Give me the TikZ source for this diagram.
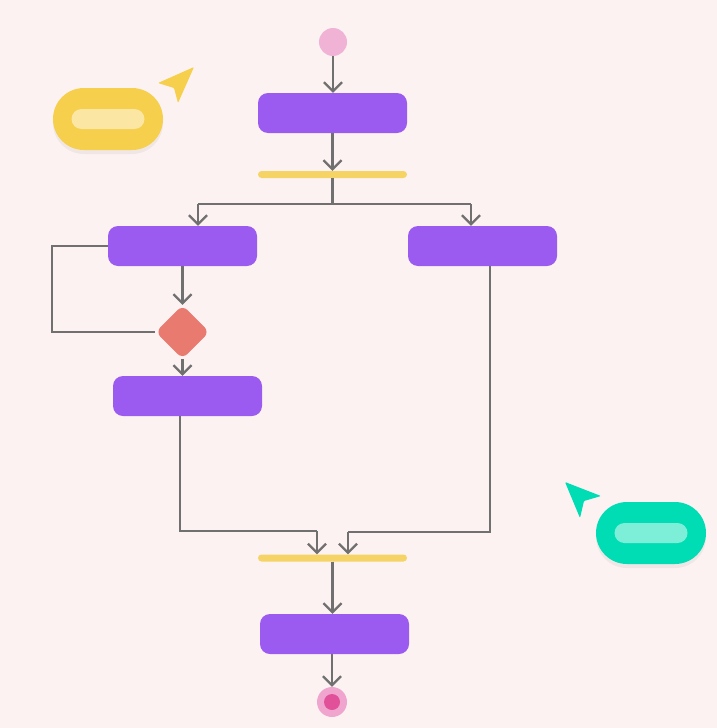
\documentclass[tikz,border=0pt]{standalone}
\usepackage{xcolor}
\usepackage{tikz}
\usetikzlibrary{shapes.geometric, shapes.misc, arrows.meta, positioning, calc, shadows}

\definecolor{bgpink}{HTML}{FDF2F2}
\definecolor{actpurple}{HTML}{9B5AF0}
\definecolor{baryellow}{HTML}{F5D465}
\definecolor{linegray}{HTML}{707070}
\definecolor{decred}{HTML}{E87A70}
\definecolor{startpink}{HTML}{F0B3D6}
\definecolor{stoppink}{HTML}{F0A5CF}
\definecolor{stopdot}{HTML}{E0519A}
\definecolor{bubyellow}{HTML}{F6CF4C}
\definecolor{bubyellowin}{HTML}{FBE6A4}
\definecolor{bubteal}{HTML}{00DDB4}
\definecolor{bubtealin}{HTML}{7DEFD9}

\begin{document}
\begin{tikzpicture}[
    x=1pt, y=-1pt,
    box/.style={rounded corners=10pt, minimum width=149pt, minimum height=40pt, inner sep=0pt, fill=actpurple},
    bar/.style={rounded corners=3.5pt, minimum width=149pt, minimum height=7pt, inner sep=0pt, fill=baryellow},
    decision/.style={diamond, rounded corners=7pt, minimum size=54pt, inner sep=0pt, fill=decred},
    bubble/.style={rounded corners=31pt, minimum width=110pt, minimum height=62pt, inner sep=0pt,
        drop shadow={opacity=0.10, shadow xshift=0pt, shadow yshift=-4pt}},
    bubbleline/.style={rounded corners=10pt, minimum width=73pt, minimum height=20pt, inner sep=0pt},
    flow/.style={draw=linegray, line width=2.3pt, -{Straight Barb[length=9pt, width=18pt]}},
    link/.style={draw=linegray, line width=2.3pt}
]
    \fill[bgpink] (0,0) rectangle (717,728);
    \useasboundingbox (0,0) rectangle (717,728);

    \node[circle, minimum size=28pt, inner sep=0pt, fill=startpink] (start) at (333,42) {};
    \node[box] (act1) at (332.5,113) {};
    \node[bar] (fork) at (332.5,174.5) {};
    \node[box] (actL) at (182.5,246) {};
    \node[box] (actR) at (482.5,246) {};
    \node[decision] (dec) at (182.5,332) {};
    \node[box] (actL2) at (187.5,396) {};
    \node[bar] (join) at (332.5,558) {};
    \node[box] (act3) at (334.5,634) {};
    \node[circle, minimum size=30pt, inner sep=0pt, fill=stoppink] (stop) at (332,702) {};
    \node[circle, minimum size=16pt, inner sep=0pt, fill=stopdot] (stopin) at (stop) {};

    \coordinate (splitL) at (198,204);
    \coordinate (splitR) at (471,204);
    \coordinate (loopC) at (52,330);
    \coordinate (joinL) at (317,531);
    \coordinate (joinR) at (348,532);

    \draw[flow] (start |- start.south) -- (start |- act1.north);
    \draw[flow] (fork |- act1.south) -- (fork.north);
    \draw[link] (fork.south) |- (splitL);
    \draw[link] (fork.south) |- (splitR);
    \draw[flow] (splitL) -- (splitL |- actL.north);
    \draw[flow] (splitR) -- (splitR |- actR.north);
    \draw[flow] (actL.south) -- (dec.north);
    \draw[link] (actL.west) -| (loopC |- dec.west) -- (dec.west);
    \draw[flow] (dec.south) -- (dec.south |- actL2.north);
    \draw[link] ([xshift=-7.5pt]actL2.south) |- (joinL);
    \draw[flow] (joinL) -- (joinL |- join.north);
    \draw[link] ([xshift=7.5pt]actR.south) |- (joinR);
    \draw[flow] (joinR) -- (joinR |- join.north);
    \draw[flow] (join.south) -- (join.south |- act3.north);
    \draw[flow] (stop |- act3.south) -- (stop.north);

    \node[bubble, fill=bubyellow] (noteY) at (108,119) {};
    \node[bubbleline, fill=bubyellowin] (noteYline) at (noteY) {};
    \fill[bubyellow, rounded corners=1pt] (194,67) -- (158,83) -- (174,88) -- (178,103) -- cycle;

    \node[bubble, fill=bubteal] (noteT) at (651,533) {};
    \node[bubbleline, fill=bubtealin] (noteTline) at (noteT) {};
    \fill[bubteal, rounded corners=1pt] (565,482) -- (601,496) -- (584,501) -- (580,518) -- cycle;
\end{tikzpicture}
\end{document}
